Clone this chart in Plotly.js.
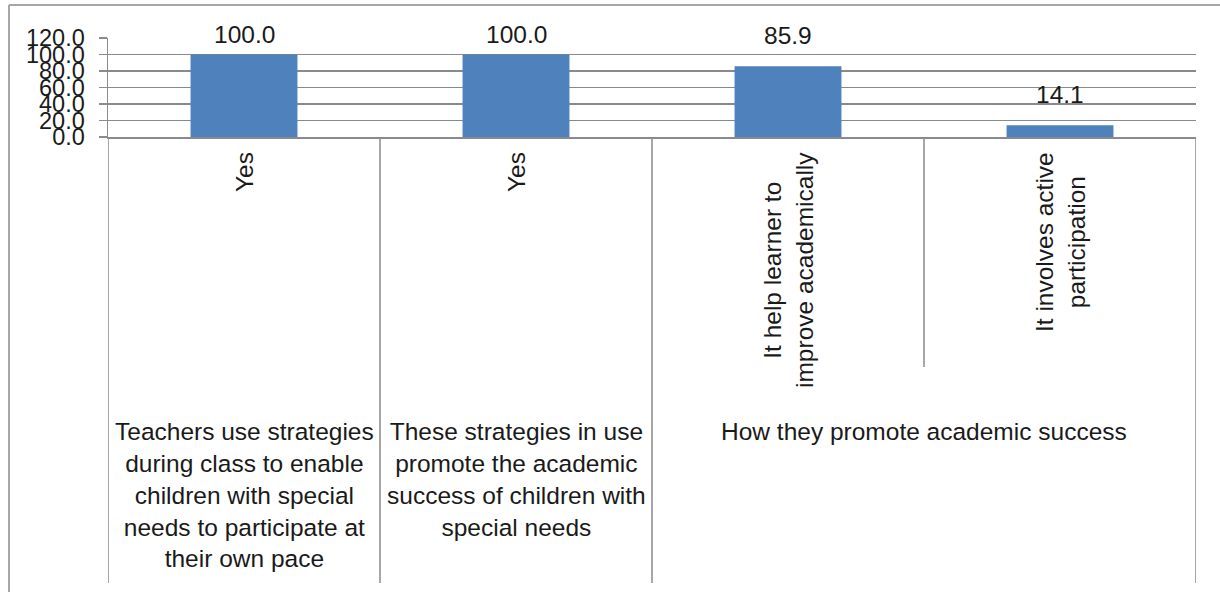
<!DOCTYPE html>
<html>
<head>
<meta charset="utf-8">
<script src="https://cdn.plot.ly/plotly-3.0.1.min.js"></script>
<style>
html,body{margin:0;padding:0;background:#fff;}
#chart{width:1220px;height:592px;}
</style>
</head>
<body>
<div id="chart"></div>
<script>
// ---- data ----
const groupLabels = [
  "Teachers use strategies<br>during class to enable<br>children with special<br>needs to participate at<br>their own pace",
  "These strategies in use<br>promote the academic<br>success of children with<br>special needs",
  "How they promote academic success"
];
const barGroup = [0, 1, 2, 2];
const subLabels = ["Yes", "Yes", "It help learner to<br>improve academically", "It involves active<br>participation"];
const values = [100.0, 100.0, 85.9, 14.1];
const yTicks = [0, 20, 40, 60, 80, 100, 120];

// ---- layout geometry ----
const W = 1220, H = 592;
const L = 108, R = 1196, T = 38, B = 137;
const plotW = R - L, plotH = B - T;
const px2x = p => (p - L) / plotW;      // paper x from pixel
const py2y = p => (B - p) / plotH;      // paper y from pixel
const k = plotH / 120;                  // px per unit
const FONT = "Liberation Sans, Arial, sans-serif";
const lineCol = "#8a8a8a";
const txtCol = "#1a1a1a";
const TXT = 24.5;

const idx = values.map((v, i) => i);

const trace = {
  type: "bar",
  x: idx,
  y: values,
  marker: {color: "#4f81bd", line: {width: 0}},
  hoverinfo: "skip",
  showlegend: false
};

const annotations = [];
// value labels
values.forEach((v, i) => {
  const barTop = T + (120 - v) * k;
  const boxBottom = Math.max(barTop - 15, 50);
  annotations.push({
    xref: "x", yref: "y", x: i, y: v,
    text: v.toFixed(1), showarrow: false,
    xanchor: "center", yanchor: "bottom",
    yshift: barTop - boxBottom,
    font: {family: FONT, size: TXT, color: txtCol}
  });
});
// rotated sub-category labels
subLabels.forEach((s, i) => {
  annotations.push({
    xref: "x", yref: "paper", x: i, y: 0,
    text: s, showarrow: false, textangle: -90,
    xanchor: "center", yanchor: "top", yshift: -13, align: "center",
    font: {family: FONT, size: TXT, color: txtCol}
  });
});
// group labels
groupLabels.forEach((g, gi) => {
  const members = idx.filter(i => barGroup[i] === gi);
  const cx = (Math.min(...members) + Math.max(...members)) / 2;
  annotations.push({
    xref: "x", yref: "paper", x: cx, y: 0,
    text: g, showarrow: false,
    xanchor: "center", yanchor: "top", yshift: -279, align: "center",
    font: {family: FONT, size: TXT, color: txtCol}
  });
});

const shapes = [];
const lineStyle = {color: lineCol, width: 1.5};
// dividers
const bottomY = py2y(583);
const innerY = py2y(367);
for (let i = 0; i <= values.length; i++) {
  const xpos = i - 0.5;
  let full = true;
  if (i > 0 && i < values.length && barGroup[i] === barGroup[i - 1]) full = false;
  shapes.push({type: "line", xref: "x", yref: "paper", x0: xpos, x1: xpos,
               y0: 0, y1: full ? bottomY : innerY, line: lineStyle});
}
// outer chart border (left + top)
shapes.push({type: "line", xref: "paper", yref: "paper",
             x0: px2x(9), x1: px2x(9), y0: py2y(5), y1: py2y(592),
             line: {color: "#a6a6a6", width: 2}});
shapes.push({type: "line", xref: "paper", yref: "paper",
             x0: px2x(9), x1: px2x(1220), y0: py2y(5), y1: py2y(5),
             line: {color: "#a6a6a6", width: 2}});

const layout = {
  width: W, height: H,
  margin: {l: L, r: W - R, t: T, b: H - B, pad: 0},
  paper_bgcolor: "#fff", plot_bgcolor: "#fff",
  bargap: 0.607,
  xaxis: {
    type: "linear", range: [-0.5, values.length - 0.5],
    showgrid: false, zeroline: false, showticklabels: false, ticks: "",
    showline: true, linecolor: lineCol, linewidth: 1.5, fixedrange: true
  },
  yaxis: {
    range: [0, 120], tickmode: "array", tickvals: yTicks,
    ticktext: yTicks.map(t => t.toFixed(1)),
    showgrid: true, gridcolor: lineCol, gridwidth: 1.5,
    zeroline: false, showline: true, linecolor: lineCol, linewidth: 1.5,
    ticks: "outside", ticklen: 8, tickcolor: lineCol, tickwidth: 1.5,
    ticklabelstandoff: 9,
    tickfont: {family: FONT, size: 23.5, color: txtCol},
    fixedrange: true
  },
  annotations: annotations,
  shapes: shapes,
  showlegend: false
};

Plotly.newPlot("chart", [trace], layout, {displayModeBar: false, staticPlot: true});
</script>
</body>
</html>
